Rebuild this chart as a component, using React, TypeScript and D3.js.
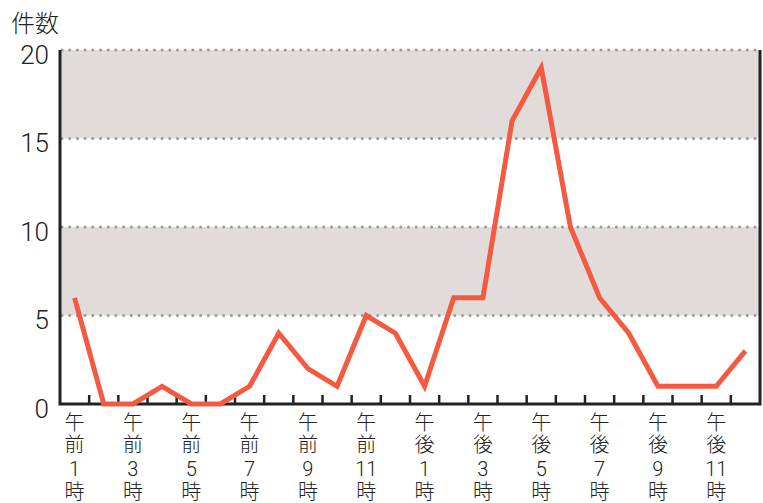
import React, { useRef, useEffect } from 'react'
import * as d3 from 'd3'

// 午前1時 .. 午後12時
const hours = d3.range(1, 25)
const counts = [6, 0, 0, 1, 0, 0, 1, 4, 2, 1, 5, 4, 1, 6, 6, 16, 19, 10, 6, 4, 1, 1, 1, 3]
const yTicks = [0, 5, 10, 15, 20]
const shadedBands = [[5, 10], [15, 20]]

const halfOf = (h: number) => (h <= 12 ? '午前' : '午後')
const hourNum = (h: number) => String(h <= 12 ? h : h - 12)

export default function App() {
    const svgRef = useRef<SVGSVGElement>(null)

    useEffect(() => {
        const w = 763
        const h = 503
        const m = { top: 50, right: 3, bottom: 98, left: 60 }
        const font = '"Noto Sans CJK JP", "Noto Sans", sans-serif'
        const digitFont = 'Roboto, "Noto Sans", sans-serif'

        const svg = d3.select(svgRef.current)
            .attr('width', w)
            .attr('height', h)
            .style('font-family', font)
        svg.selectAll('*').remove()

        const xScale = d3.scaleBand<number>()
            .domain(hours)
            .range([m.left, w - m.right])

        const yScale = d3.scaleLinear()
            .domain([0, 20])
            .range([h - m.bottom - 1, m.top])

        // shaded bands
        svg.append('g')
            .selectAll('rect')
            .data(shadedBands)
            .join('rect')
                .attr('x', m.left)
                .attr('width', w - m.right - m.left)
                .attr('y', d => yScale(d[1]))
                .attr('height', d => yScale(d[0]) - yScale(d[1]))
                .attr('fill', '#e1dcda')

        // dotted grid
        svg.append('g')
            .selectAll('line')
            .data(yTicks.filter(t => t > 0))
            .join('line')
                .attr('x1', m.left + 2)
                .attr('x2', w - m.right)
                .attr('y1', d => yScale(d))
                .attr('y2', d => yScale(d))
                .attr('stroke', '#999')
                .attr('stroke-width', 3)
                .attr('stroke-linecap', 'round')
                .attr('stroke-dasharray', '0 7.7')

        // x ticks at band boundaries, pointing up
        const x0 = m.left
        const bw = xScale.bandwidth()
        svg.append('g')
            .selectAll('line')
            .data(hours.slice(1))
            .join('line')
                .attr('x1', (d, i) => x0 + bw * (i + 1))
                .attr('x2', (d, i) => x0 + bw * (i + 1))
                .attr('y1', yScale(0))
                .attr('y2', yScale(0) - 9)
                .attr('stroke', '#222')
                .attr('stroke-width', 2.5)

        // axes frame
        const yBase = yScale(0)
        svg.append('path')
            .attr('d', `M${m.left},${m.top}V${yBase}H${w - m.right}V${m.top}`)
            .attr('fill', 'none')
            .attr('stroke', '#222')
            .attr('stroke-width', 3)

        // y labels (sit a little below their gridline)
        svg.append('g')
            .selectAll('text')
            .data(yTicks)
            .join('text')
                .attr('x', 49)
                .attr('y', d => yScale(d) + 13.5)
                .attr('text-anchor', 'end')
                .attr('font-family', digitFont)
                .attr('font-size', 26)
                .attr('font-weight', 300)
                .attr('fill', '#222')
                .text(d => d)

        svg.append('text')
            .attr('x', 11)
            .attr('y', 31.5)
            .attr('font-size', 24)
            .attr('font-weight', 300)
            .attr('fill', '#222')
            .text('件数')

        // x labels: 午前 / number / 時 stacked
        const labelHours = hours.filter(d => d % 2 === 1)
        const g = svg.append('g')
            .attr('fill', '#222')
            .attr('font-size', 20)
            .attr('font-weight', 300)

        const vertical = (sel: any) => sel
            .style('writing-mode', 'vertical-rl')
            .style('text-orientation', 'upright')
            .style('letter-spacing', '2.5px')

        g.selectAll('text.half')
            .data(labelHours)
            .join('text')
                .attr('class', 'half')
                .attr('x', d => xScale(d)! + bw / 2)
                .attr('y', 412)
                .call(vertical)
                .text(d => halfOf(d))

        g.selectAll('text.num')
            .data(labelHours)
            .join('text')
                .attr('class', 'num')
                .attr('x', d => xScale(d)! + bw / 2)
                .attr('y', 476)
                .attr('text-anchor', 'middle')
                .attr('font-family', digitFont)
                .text(d => hourNum(d))

        g.selectAll('text.ji')
            .data(labelHours)
            .join('text')
                .attr('class', 'ji')
                .attr('x', d => xScale(d)! + bw / 2)
                .attr('y', 481)
                .call(vertical)
                .text('時')

        // line
        const line = d3.line<number>()
            .x((d, i) => xScale(hours[i])! + bw / 2)
            .y(d => yScale(d))

        svg.append('path')
            .datum(counts)
            .attr('d', line)
            .attr('fill', 'none')
            .attr('stroke', '#f35a41')
            .attr('stroke-width', 5)
            .attr('stroke-linejoin', 'miter')
    }, [])

    return (
        <div style={{ position: 'absolute', left: 0, top: 0 }}>
            <svg ref={svgRef} style={{ display: 'block' }}></svg>
        </div>
    )
}
